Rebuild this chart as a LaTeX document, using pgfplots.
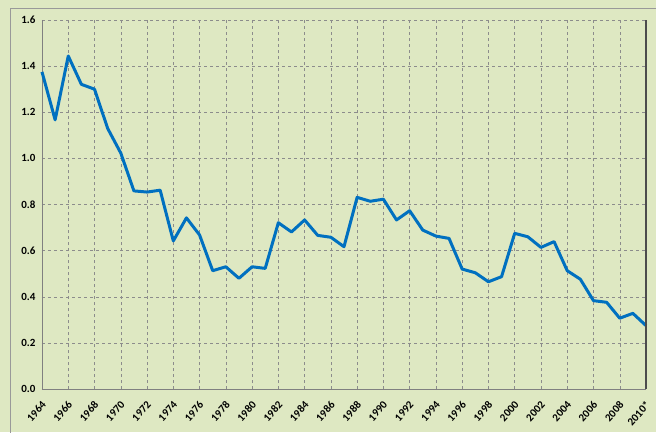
\documentclass[border=0pt]{standalone}
\usepackage{pgfplots}
\pgfplotsset{compat=1.18}
\usepackage{fontspec}
\setmainfont{Carlito}
\definecolor{bg}{RGB}{222,232,194}
\definecolor{ln}{RGB}{0,112,192}
\begin{document}
\begin{tikzpicture}[x=1pt,y=1pt]
\fill[bg] (0,0) rectangle (656,432);
\useasboundingbox (0,0) rectangle (656,432);
\begin{scope}
\clip (0,0) rectangle (656,432);
\draw[gray!80, line width=1pt] (10,423) rectangle (720,-40);
\end{scope}
\begin{axis}[
  at={(42pt,43pt)}, anchor=south west,
  scale only axis, width=604pt, height=369pt,
  xmin=1964, xmax=2010, ymin=0, ymax=1.6,
  axis lines*=left,
  axis line style={draw=gray, line width=0.8pt},
  xtick={1964,1966,...,2010},
  xticklabels={1964,1966,1968,1970,1972,1974,1976,1978,1980,1982,1984,1986,1988,1990,1992,1994,1996,1998,2000,2002,2004,2006,2008,2010*},
  ytick={0,0.2,...,1.6},
  major tick length=0pt,
  grid=major,
  grid style={dashed, black!45, line width=0.5pt},
  /pgf/number format/assume math mode=true,
  yticklabel style={/pgf/number format/fixed, /pgf/number format/fixed zerofill, /pgf/number format/precision=1, font=\fontsize{11}{13}\selectfont\bfseries, xshift=-3pt},
  xticklabel style={xshift=2pt, yshift=-14pt, rotate=48, anchor=east, font=\fontsize{11}{13}\selectfont\bfseries, inner sep=0pt},
  clip=false,
]
\addplot[ln, line width=3pt, line join=round] coordinates {
(1964,1.375) (1965,1.167) (1966,1.444) (1967,1.321) (1968,1.300)
(1969,1.130) (1970,1.023) (1971,0.859) (1972,0.854) (1973,0.862)
(1974,0.642) (1975,0.742) (1976,0.668) (1977,0.513) (1978,0.530)
(1979,0.480) (1980,0.530) (1981,0.523) (1982,0.721) (1983,0.681)
(1984,0.733) (1985,0.666) (1986,0.658) (1987,0.617) (1988,0.831)
(1989,0.814) (1990,0.823) (1991,0.733) (1992,0.773) (1993,0.689)
(1994,0.663) (1995,0.653) (1996,0.520) (1997,0.504) (1998,0.465)
(1999,0.487) (2000,0.675) (2001,0.660) (2002,0.614) (2003,0.639)
(2004,0.513) (2005,0.476) (2006,0.383) (2007,0.376) (2008,0.307)
(2009,0.328) (2010,0.275)
};
\draw[gray!60!black, line width=1.2pt] (rel axis cs:1,0) -- (rel axis cs:1,1);
\end{axis}
\end{tikzpicture}
\end{document}
